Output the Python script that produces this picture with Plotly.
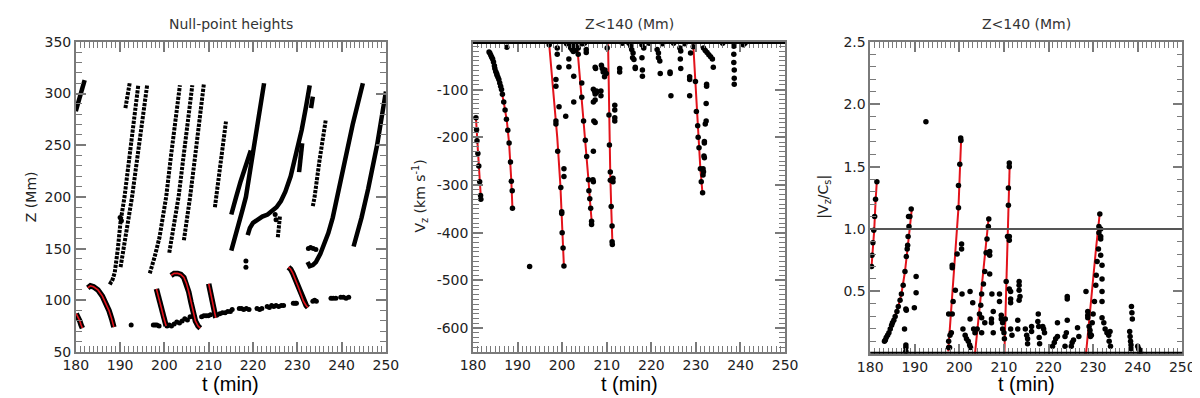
import plotly.graph_objects as go

# ---------------- panel 1 : null-point heights ----------------
# rising tracks drawn as solid thick lines (t in min, Z in Mm)
solid_t = [
    [180.0, 180.6, 181.3, 182.0],
    [215.1, 215.6, 216.2, 217.2, 218.3, 219.5],
    [215.1, 215.8, 216.6, 217.6, 218.4, 219.3, 220.3, 221.4, 222.5],
    [218.8, 219.3, 220.0, 221.0, 222.1, 223.3, 224.3, 225.3, 226.3, 227.3, 228.5, 229.7, 231.0, 232.0, 232.8],
    [230.4, 231.1],
    [233.1, 233.5],
    [232.3, 232.8, 233.5, 234.2, 235.2, 236.2, 237.0, 238.0, 239.0, 240.5, 242.5, 244.8],
    [242.7, 243.5, 244.5, 246.0, 248.0, 250.0],
]
solid_z = [
    [283, 291, 302, 313],
    [183, 192, 200, 215, 230, 245],
    [148, 158, 170, 187, 200, 224, 251, 280, 310],
    [163, 170, 175, 178, 181, 183, 186, 190, 196, 205, 220, 240, 265, 288, 308],
    [224, 252],
    [286, 297],
    [137, 133, 134, 137, 145, 155, 165, 180, 200, 230, 270, 310],
    [152, 163, 180, 208, 250, 302],
]

# rising tracks made of separate dots
dotted_t = [
    [191.2, 192.2],
    [187.5, 187.9, 188.3, 188.8, 189.5, 190.1, 191.0, 192.0, 193.0, 194.1],
    [190.1, 190.6, 191.5, 192.7, 193.8, 195.0, 196.1],
    [196.7, 197.1, 197.8, 198.9, 200.4, 201.5, 202.5, 203.5],
    [201.1, 201.6, 202.3, 203.2, 204.2, 205.3, 206.3],
    [204.4, 204.9, 205.8, 206.9, 207.9, 208.9],
    [211.4, 211.7, 212.8, 213.9],
    [225.6, 226.1],
    [233.5, 233.9, 235.0, 236.4],
]
dotted_z = [
    [286, 311],
    [118, 117, 120, 127, 150, 176, 200, 235, 270, 308],
    [132, 145, 170, 200, 235, 272, 308],
    [126, 131, 142, 161, 200, 240, 275, 308],
    [146, 158, 175, 200, 235, 272, 308],
    [158, 172, 200, 238, 274, 309],
    [190, 200, 240, 273],
    [161, 182],
    [191, 200, 235, 274],
]

# falling segments with their red fits
fall_t = [
    [180.1, 180.5, 180.9, 181.2, 181.5],
    [182.7, 183.3, 184.0, 185.0, 186.0, 186.8, 187.5, 188.1, 188.6],
    [198.2, 198.6, 199.0, 199.4, 199.8, 200.4],
    [201.5, 202.2, 203.0, 203.7, 204.4, 205.0, 205.5, 206.0, 206.5, 207.0, 207.6, 208.1],
    [210.0, 210.4, 210.8, 211.2, 211.6],
    [228.0, 228.5, 229.0, 229.6, 230.2, 230.8, 231.4, 232.0, 232.4],
]
fall_z = [
    [87, 84, 80, 76, 73],
    [112, 114, 113, 110, 104, 97, 90, 82, 74],
    [111, 105, 98, 91, 84, 75],
    [124, 126, 126, 125, 122, 116, 108, 98, 88, 80, 75, 73],
    [116, 108, 99, 90, 83],
    [132, 130, 126, 120, 113, 106, 99, 95, 93],
]

# isolated dots and the low, slowly rising null
spot_t = [190.0, 190.3, 218.4, 218.4, 225.0, 225.2, 232.5, 233.0, 233.6, 234.2, 192.5,
          197.5, 197.9, 198.3, 198.8,
          200.6, 201.1, 201.6, 202.2, 202.8, 203.4, 204.0, 204.6, 205.2, 205.8,
          208.4, 208.9, 209.4, 209.9, 210.4, 211.9, 212.5, 213.1, 213.7, 214.3, 214.9, 215.3,
          216.9, 217.4, 217.9, 218.5, 219.1, 220.9, 221.5, 222.0, 223.2, 223.7, 224.2, 224.7,
          225.2, 225.8, 226.4, 226.9, 229.1, 229.5, 229.8, 233.5, 233.9, 234.3,
          237.6, 238.1, 238.7, 239.8, 240.4, 241.0, 241.6]
spot_z = [180, 177, 138, 132, 183, 178, 150, 151, 150, 149, 76,
          76, 76, 76, 75,
          75, 76, 75, 77, 79, 78, 80, 82, 81, 84,
          84, 85, 85, 85, 86, 86, 87, 88, 88, 89, 89, 91,
          92, 92, 91, 92, 91, 92, 91, 92, 94, 93, 95, 94,
          95, 94, 95, 95, 97, 97, 97, 99, 100, 99,
          102, 102, 102, 103, 103, 102, 103]

# ---------------- panel 2 : Vz for Z<140 Mm ----------------
vz_fit_t = [
    [180.66, 180.9, 181.25, 181.5, 181.76],
    [183.58, 184.3, 184.7, 185.3, 185.8, 186.3, 186.9, 187.6, 188.1, 188.4, 188.6, 188.85],
    [197.1, 198.0, 198.9, 199.6, 200.0, 200.4],
    [203.3, 204.4, 205.2, 205.9, 206.3, 206.7],
    [210.3, 210.5, 210.8, 211.0, 211.3],
    [229.4, 229.9, 230.4, 231.0, 231.5],
]
vz_fit_v = [
    [-159, -195, -234, -280, -327],
    [-21, -33, -46, -66, -79, -99, -126, -166, -212, -252, -292, -349],
    [-6, -100, -200, -300, -380, -472],
    [0, -116, -206, -289, -340, -385],
    [-5, -153, -280, -345, -430],
    [-5, -83, -176, -266, -320],
]
vz_dots = [
    (180.66, -159), (180.8, -184), (180.9, -207), (181.1, -234), (181.3, -260), (181.5, -293),
    (181.7, -322), (181.76, -330),
    (183.6, -21), (183.8, -24), (184.0, -28), (184.2, -32), (184.4, -36), (184.6, -42), (184.8, -50),
    (184.9, -56), (185.1, -62), (185.3, -66), (185.4, -70), (185.6, -74), (185.8, -79), (186.0, -86),
    (186.2, -93), (186.4, -100), (186.6, -110), (186.9, -126), (187.2, -143), (187.5, -162),
    (187.8, -185), (188.1, -212), (188.4, -252), (188.6, -292), (188.8, -312), (188.85, -349),
    (197.1, -6), (198.6, -166), (198.6, -172), (199.0, -229), (199.7, -305), (199.9, -356),
    (199.9, -360), (200.0, -400), (200.2, -432), (200.4, -470),
    (203.6, -13), (203.6, -26), (204.4, -116), (204.8, -166), (205.2, -206), (205.5, -240),
    (205.9, -289), (206.0, -312), (206.2, -329), (206.4, -349), (206.6, -376), (206.6, -383),
    (210.1, -13), (210.5, -153), (210.6, -216), (210.8, -273), (210.8, -290), (211.0, -345),
    (211.2, -386), (211.2, -419), (211.25, -425),
    (229.4, -10), (229.9, -83), (230.1, -146), (230.4, -176), (230.5, -200), (230.7, -222),
    (231.0, -266), (231.2, -293), (231.5, -316),
    (187.6, -11), (192.7, -471), (198.9, -13), (198.9, -26), (199.3, -53), (198.6, -79), (198.6, -93),
    (199.3, -136), (200.8, -156), (200.4, -266), (200.4, -282), (201.5, -36), (201.5, -52),
    (202.6, -72), (202.6, -126), (201.9, -12), (202.2, -16), (202.5, -20), (202.8, -14), (203.0, -18),
    (205.4, -16), (205.4, -22), (204.4, -86), (207.4, -53), (207.5, -56), (207.4, -109), (207.4, -122),
    (207.7, -103), (208.7, -103), (208.7, -113), (208.8, -49), (209.0, -56), (209.2, -63), (209.5, -73),
    (207.4, -169), (207.0, -229), (206.9, -289), (207.0, -293), (211.8, -133), (211.8, -143),
    (211.8, -159), (211.8, -166), (212.9, -56), (212.9, -63), (211.4, -286), (211.4, -293),
    (215.4, -9), (215.6, -16), (215.9, -23), (215.8, -33), (216.1, -37), (216.4, -53), (216.4, -56),
    (217.9, -6), (218.3, -13), (217.9, -33), (218.0, -59), (218.0, -72), (221.3, -16), (221.6, -23),
    (221.6, -33), (221.9, -40), (222.0, -66), (224.2, -63), (224.2, -66), (224.4, -113), (226.4, -13),
    (226.6, -19), (226.5, -36), (226.6, -56), (228.6, -73), (228.6, -79), (228.6, -113), (228.8, -23),
    (231.7, -13), (232.1, -18), (232.5, -22), (232.9, -27), (233.3, -31), (233.7, -36), (232.4, -89),
    (232.4, -93), (232.3, -129), (232.3, -166), (232.1, -172), (231.9, -209), (231.9, -212),
    (231.8, -239), (231.9, -243), (231.6, -266), (231.7, -272), (231.6, -279), (233.9, -53),
    (238.5, -9), (238.5, -26), (238.5, -43), (238.6, -59), (238.6, -76), (238.6, -89), (240.6, -6),
    (207.0, -99), (207.3, -104), (207.7, -106), (207.0, -126), (209.6, -59), (209.9, -66), (207.1, -166),
    (201.0, -4), (202.0, -6), (203.0, -5), (204.5, -4), (205.0, -3), (213.5, -3), (215.0, -3),
    (219.5, -3), (222.5, -4), (225.0, -3), (227.5, -4), (236.0, -3), (241.0, -3),
]

# ---------------- panel 3 : |Vz/Cs| for Z<140 Mm ----------------
mach_fit_t = [
    [180.3, 180.6, 180.9, 181.2, 181.5],
    [183.2, 184.1, 184.8, 185.6, 186.3, 187.0, 187.8, 188.4, 188.9, 189.3],
    [197.5, 198.1, 198.7, 199.3, 199.8, 200.1, 200.4],
    [203.5, 204.5, 205.5, 206.6],
    [210.1, 210.6, 211.0, 211.3],
    [228.4, 229.2, 229.8, 230.7, 231.5],
]
mach_fit_v = [
    [0.70, 0.82, 0.99, 1.22, 1.39],
    [0.10, 0.15, 0.22, 0.30, 0.38, 0.48, 0.66, 0.85, 1.05, 1.15],
    [0.02, 0.30, 0.58, 0.86, 1.17, 1.45, 1.72],
    [0.0, 0.36, 0.72, 1.10],
    [0.0, 0.6, 1.17, 1.53],
    [0.0, 0.30, 0.58, 0.86, 1.13],
]
mach_dots = [
    (180.3, 0.70), (180.4, 0.79), (180.6, 0.89), (180.8, 0.99), (181.0, 1.10), (181.2, 1.24), (181.5, 1.38),
    (183.2, 0.10), (183.4, 0.11), (183.6, 0.13), (183.9, 0.15), (184.2, 0.17), (184.5, 0.20), (184.8, 0.23),
    (185.0, 0.25), (185.3, 0.27), (185.6, 0.30), (186.0, 0.34), (186.3, 0.38), (186.7, 0.43), (187.0, 0.48),
    (187.4, 0.55), (187.8, 0.66), (188.1, 0.78), (188.4, 0.87), (188.5, 0.94), (188.7, 1.02), (188.9, 1.10),
    (189.2, 1.16), (188.6, 1.10), (188.3, 0.84),
    (187.7, 0.20), (188.0, 0.07), (188.0, 0.05), (188.1, 0.35), (188.0, 0.36), (190.3, 0.62), (190.3, 0.49),
    (189.9, 0.37), (188.0, 0.02), (192.5, 1.86),
    (197.6, 0.05), (197.9, 0.15), (198.2, 0.17), (198.4, 0.32), (198.6, 0.42), (199.1, 0.51), (199.5, 0.80),
    (199.8, 1.17), (199.8, 1.35), (200.1, 1.52), (200.3, 1.73), (200.35, 1.71),
    (197.6, 0.32), (197.6, 0.10), (197.8, 0.05), (198.4, 0.69), (198.4, 0.71), (200.5, 0.88), (200.5, 0.84),
    (200.6, 0.48), (200.8, 0.20), (201.3, 0.15), (201.6, 0.12), (202.0, 0.10), (202.3, 0.07), (202.5, 0.05),
    (202.4, 0.50), (203.0, 0.41), (202.4, 0.28), (203.2, 0.20), (203.5, 0.17),
    (204.0, 0.20), (204.5, 0.32), (204.8, 0.39), (205.0, 0.48), (205.4, 0.56), (205.7, 0.66), (206.0, 0.81),
    (206.2, 0.92), (206.5, 1.02), (206.6, 1.08),
    (205.0, 0.29), (205.0, 0.17), (205.7, 0.25), (207.2, 0.28), (207.2, 0.25), (207.3, 0.48), (206.8, 0.64),
    (206.8, 0.82), (206.8, 0.79), (207.6, 0.34), (207.6, 0.17), (209.0, 0.48), (209.0, 0.42), (209.4, 0.31),
    (209.4, 0.28), (209.7, 0.25), (209.7, 0.20), (210.0, 0.17), (210.1, 0.12),
    (210.3, 0.28), (210.5, 0.58), (210.8, 0.94), (211.2, 0.94), (211.2, 0.91), (211.0, 1.19), (211.0, 1.33),
    (211.2, 1.50), (211.2, 1.53),
    (211.2, 0.52), (211.5, 0.50), (211.5, 0.44), (211.5, 0.41), (211.5, 0.20), (211.8, 0.15), (213.4, 0.58),
    (213.4, 0.55), (213.4, 0.51), (213.6, 0.46), (213.4, 0.43), (213.1, 0.27), (213.1, 0.20), (214.8, 0.20),
    (215.1, 0.15), (215.3, 0.12), (215.3, 0.08), (216.2, 0.22), (216.2, 0.18), (217.7, 0.32), (217.6, 0.26),
    (217.8, 0.22), (217.9, 0.13), (218.0, 0.08), (218.7, 0.22), (218.9, 0.20), (219.1, 0.17), (220.9, 0.06),
    (221.3, 0.09), (221.6, 0.12), (222.0, 0.14), (222.0, 0.25), (223.7, 0.14), (223.7, 0.06), (224.0, 0.17),
    (224.2, 0.46), (224.2, 0.44), (224.2, 0.27), (225.1, 0.06), (225.3, 0.09), (225.6, 0.11), (226.5, 0.21),
    (226.8, 0.14), (228.4, 0.50),
    (229.4, 0.14), (229.8, 0.25), (230.0, 0.32), (230.3, 0.42), (230.6, 0.55), (230.7, 0.63), (230.9, 0.74),
    (231.2, 0.84), (231.3, 0.97), (231.3, 1.02), (231.5, 1.12),
    (228.8, 0.34), (228.8, 0.31), (228.8, 0.29), (229.1, 0.22), (229.3, 0.19), (229.3, 0.16), (229.6, 0.15),
    (231.7, 1.00), (231.7, 0.94), (231.7, 0.92), (231.7, 0.79), (232.0, 0.71), (232.0, 0.60), (232.0, 0.50),
    (232.0, 0.42), (232.0, 0.29), (232.4, 0.25), (232.7, 0.20), (233.1, 0.17), (233.5, 0.15), (233.8, 0.18),
    (233.6, 0.10), (233.9, 0.06), (238.2, 0.18), (238.3, 0.14), (238.4, 0.10), (238.5, 0.07), (238.5, 0.04),
    (238.6, 0.38), (238.7, 0.33), (238.8, 0.28), (240.0, 0.06), (240.2, 0.04), (240.4, 0.03), (240.6, 0.02),
]
mach_level = 1.0

x_ticks = [180, 190, 200, 210, 220, 230, 240, 250]
z_ticks = [50, 100, 150, 200, 250, 300, 350]
vz_ticks = [-600, -500, -400, -300, -200, -100]
mach_ticks = [0.5, 1.0, 1.5, 2.0, 2.5]

RED = '#e3131b'
FRAME = '#7a7a7a'
TICKFONT = dict(family='DejaVu Sans', size=14, color='#222222')


def frame_axis(minor_step, **kw):
    ax = dict(showline=True, linecolor=FRAME, linewidth=1.5, mirror='ticks',
              ticks='inside', ticklen=10, tickwidth=1.5, tickcolor=FRAME, tickmode='array',
              minor=dict(ticks='inside', ticklen=6, tickwidth=1.2, tickcolor=FRAME,
                         tickmode='linear', dtick=minor_step),
              showgrid=False, zeroline=False, tickfont=TICKFONT)
    ax.update(kw)
    return ax


fig = go.Figure()

# panel 1
for t, z in zip(solid_t, solid_z):
    fig.add_trace(go.Scatter(x=t, y=z, mode='lines', line=dict(color='black', width=4.5),
                             xaxis='x', yaxis='y', showlegend=False))
for t, z in zip(dotted_t, dotted_z):
    fig.add_trace(go.Scatter(x=t, y=z, mode='lines', line=dict(color='black', width=4, dash='3.2px,1.2px'),
                             xaxis='x', yaxis='y', showlegend=False))
fig.add_trace(go.Scatter(x=spot_t, y=spot_z, mode='markers', marker=dict(color='black', size=5),
                         xaxis='x', yaxis='y', showlegend=False))
for t, z in zip(fall_t, fall_z):
    fig.add_trace(go.Scatter(x=t, y=z, mode='lines', line=dict(color='black', width=5.5),
                             xaxis='x', yaxis='y', showlegend=False))
    fig.add_trace(go.Scatter(x=t, y=z, mode='lines', line=dict(color=RED, width=1.6),
                             xaxis='x', yaxis='y', showlegend=False))

# panel 2
for t, v in zip(vz_fit_t, vz_fit_v):
    fig.add_trace(go.Scatter(x=t, y=v, mode='lines', line=dict(color=RED, width=2),
                             xaxis='x2', yaxis='y2', showlegend=False))
fig.add_trace(go.Scatter(x=[p[0] for p in vz_dots], y=[p[1] for p in vz_dots], mode='markers',
                         marker=dict(color='black', size=5.5), xaxis='x2', yaxis='y2', showlegend=False))

# panel 3
for t, v in zip(mach_fit_t, mach_fit_v):
    fig.add_trace(go.Scatter(x=t, y=v, mode='lines', line=dict(color=RED, width=2),
                             xaxis='x3', yaxis='y3', showlegend=False))
fig.add_trace(go.Scatter(x=[p[0] for p in mach_dots], y=[p[1] for p in mach_dots], mode='markers',
                         marker=dict(color='black', size=5.5), xaxis='x3', yaxis='y3', showlegend=False))

ydom = [1 - 350 / 398, 1 - 27 / 398]
ydom3 = [1 - 352 / 398, 1 - 27 / 398]

fig.update_layout(
    width=1200, height=398,
    margin=dict(l=0, r=0, t=0, b=0),
    paper_bgcolor='white', plot_bgcolor='white',
    xaxis=frame_axis(1, domain=[56 / 1200, 373 / 1200], range=[180, 250], tickvals=x_ticks, anchor='y'),
    yaxis=frame_axis(10, domain=ydom, range=[50, 350], tickvals=z_ticks, anchor='x'),
    xaxis2=frame_axis(1, domain=[462 / 1200, 781 / 1200], range=[180, 250], tickvals=x_ticks, anchor='y2'),
    yaxis2=frame_axis(10, domain=ydom, range=[-650, 0], tickvals=vz_ticks,
                      ticktext=['%d' % v for v in vz_ticks], anchor='x2'),
    xaxis3=frame_axis(1, domain=[868 / 1200, 1187 / 1200], range=[180, 250], tickvals=x_ticks, anchor='y3'),
    yaxis3=frame_axis(0.1, domain=ydom3, range=[0, 2.5], tickvals=mach_ticks,
                      ticktext=['%.1f' % v for v in mach_ticks], anchor='x3'),
)

# heavy rows of points sitting at zero, and the |Vz/Cs| = 1 level
fig.add_shape(type='line', xref='x2 domain', yref='y2', x0=0, x1=1, y0=0, y1=0,
              line=dict(color='black', width=4))
fig.add_shape(type='line', xref='x3 domain', yref='y3', x0=0, x1=1, y0=0, y1=0,
              line=dict(color='black', width=4))
fig.add_shape(type='line', xref='x3 domain', yref='y3', x0=0, x1=1, y0=mach_level, y1=mach_level,
              line=dict(color='#555555', width=2))

titles = [('Null-point heights', 214.5), ('Z<140 (Mm)', 621.5), ('Z<140 (Mm)', 1027.5)]
for text, xc in titles:
    fig.add_annotation(text=text, x=xc / 1200, y=1 - 8 / 398, xref='paper', yref='paper',
                       showarrow=False, xanchor='center', yanchor='middle',
                       font=dict(family='DejaVu Sans', size=14, color='#333333'))
    fig.add_annotation(text='t (min)', x=xc / 1200, y=1 - 383 / 398, xref='paper', yref='paper',
                       showarrow=False, xanchor='center', yanchor='middle',
                       font=dict(family='Liberation Sans', size=20, color='black'))

ytitles = [('Z (Mm)', 11), ('V<sub>z</sub> (km s<sup>-1</sup>)', 408), ('|V<sub>z</sub>/C<sub>s</sub>|', 821)]
for text, xc in ytitles:
    fig.add_annotation(text=text, x=xc / 1200, y=1 - 188 / 398, xref='paper', yref='paper',
                       showarrow=False, textangle=-90, xanchor='center', yanchor='middle',
                       font=dict(family='DejaVu Sans', size=14, color='#222222'))

fig.write_html("out.html")
